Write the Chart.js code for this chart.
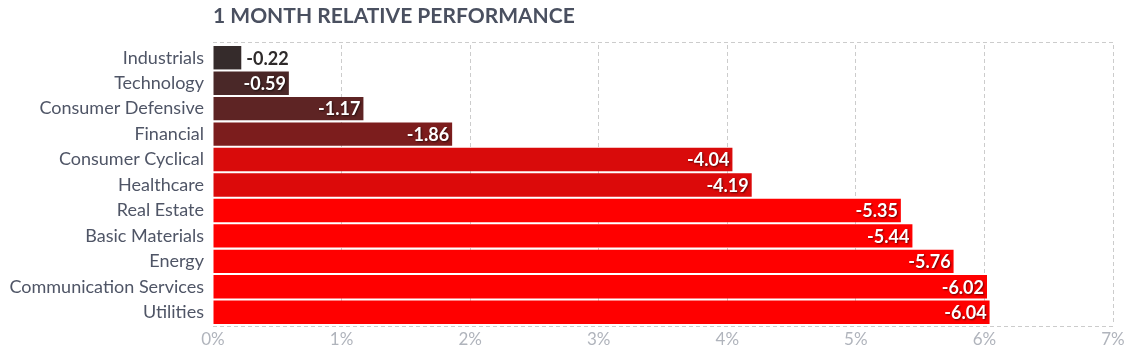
<!DOCTYPE html>
<html>
<head>
<meta charset="utf-8">
<script src="https://cdn.jsdelivr.net/npm/chart.js@4"></script>
<style>
  body { margin: 0; background: #fff; }
  #wrap { position: relative; width: 1133px; height: 354px; }
  #titulo {
    position: absolute; left: 213px; top: 2px;
    font: bold 21px Lato, sans-serif; color: #4a5060;
  }
</style>
</head>
<body>
<div id="wrap">
  <div id="titulo">1 MONTH RELATIVE PERFORMANCE</div>
  <canvas id="grafica" width="1133" height="354"></canvas>
</div>
<script>
// Sectores y rendimiento de 1 mes (%)
const sectores = ["Industrials", "Technology", "Consumer Defensive", "Financial", "Consumer Cyclical",
  "Healthcare", "Real Estate", "Basic Materials", "Energy", "Communication Services", "Utilities"];
const rendimiento = [-0.22, -0.59, -1.17, -1.86, -4.04, -4.19, -5.35, -5.44, -5.76, -6.02, -6.04];
const coloresBarras = ["#352b2b", "#4a2828", "#5e2424", "#7c1d1d", "#d90b0b",
  "#dc0a0a", "#ff0000", "#ff0000", "#ff0000", "#ff0000", "#ff0000"];
const ticksX = [0, 1, 2, 3, 4, 5, 6, 7];

// Etiquetas de valor al final de cada barra
const etiquetasValor = {
  id: 'etiquetasValor',
  afterDatasetsDraw(chart) {
    const ctx = chart.ctx;
    const meta = chart.getDatasetMeta(0);
    ctx.save();
    ctx.font = 'bold 18px Lato, sans-serif';
    ctx.textBaseline = 'middle';
    meta.data.forEach((bar, i) => {
      const texto = rendimiento[i].toFixed(2);
      const ancho = ctx.measureText(texto).width;
      const largoBarra = bar.x - bar.base;
      if (ancho + 8 > largoBarra) {
        ctx.fillStyle = '#2e2a2a';
        ctx.textAlign = 'left';
        ctx.shadowColor = 'transparent';
        ctx.fillText(texto, bar.x + 5, bar.y + 1);
      } else {
        ctx.fillStyle = '#fff';
        ctx.textAlign = 'right';
        ctx.shadowColor = 'rgba(0,0,0,0.6)';
        ctx.shadowBlur = 2;
        ctx.shadowOffsetX = 1;
        ctx.shadowOffsetY = 1;
        ctx.fillText(texto, bar.x - 3, bar.y + 1);
      }
    });
    ctx.restore();
  }
};

// Marco punteado del area de la grafica
const marco = {
  id: 'marco',
  beforeDatasetsDraw(chart) {
    const { ctx, chartArea: a } = chart;
    ctx.save();
    ctx.strokeStyle = '#cccccc';
    ctx.lineWidth = 1;
    ctx.setLineDash([4, 3]);
    ctx.beginPath();
    ctx.moveTo(a.left, a.top - 2.5);
    ctx.lineTo(a.right, a.top - 2.5);
    ctx.moveTo(a.left, a.bottom + 1.5);
    ctx.lineTo(a.right, a.bottom + 1.5);
    ctx.stroke();
    ctx.restore();
  }
};

new Chart(document.getElementById('grafica'), {
  type: 'bar',
  data: {
    labels: sectores,
    datasets: [{
      data: rendimiento.map(Math.abs),
      backgroundColor: coloresBarras,
      borderWidth: 0,
      barPercentage: 0.92,
      categoryPercentage: 1
    }]
  },
  options: {
    indexAxis: 'y',
    responsive: false,
    animation: false,
    layout: { padding: { top: 45, right: 20, left: 0, bottom: 0 } },
    plugins: { legend: { display: false }, tooltip: { enabled: false } },
    scales: {
      x: {
        min: 0, max: 7,
        afterBuildTicks: s => { s.ticks = ticksX.map(v => ({ value: v })); },
        afterFit: s => { s.height = 29; },
        grid: {
          color: c => c.tick && c.tick.value === 0 ? 'transparent' : '#cccccc',
          drawTicks: false
        },
        border: { display: false, dash: [4, 3] },
        ticks: {
          padding: 4,
          color: '#b0b4bc',
          font: { family: 'Lato', size: 17 },
          callback: v => v + '%'
        }
      },
      y: {
        afterFit: s => { s.width = 213; },
        grid: { display: false },
        border: { display: false },
        ticks: {
          padding: 1,
          color: '#4f5566',
          font: { family: 'Lato', size: 18 }
        }
      }
    }
  },
  plugins: [marco, etiquetasValor]
});
</script>
</body>
</html>
